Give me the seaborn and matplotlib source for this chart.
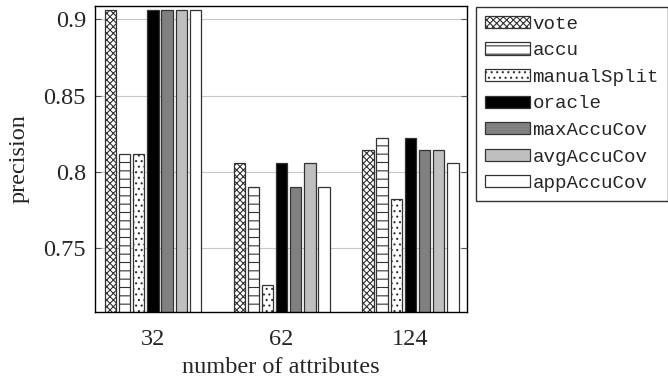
import matplotlib
matplotlib.use("Agg")
import matplotlib.pyplot as plt
import matplotlib.patches as mpatches
import pandas as pd
import seaborn as sb

# data
attributes = ["32", "62", "124"]
methods = ["vote", "accu", "manualSplit", "oracle", "maxAccuCov", "avgAccuCov", "appAccuCov"]
vote = [0.906, 0.806, 0.814]
accu = [0.812, 0.790, 0.822]
manual_split = [0.812, 0.726, 0.782]
oracle = [0.906, 0.806, 0.822]
max_accu_cov = [0.906, 0.790, 0.814]
avg_accu_cov = [0.906, 0.806, 0.814]
app_accu_cov = [0.906, 0.790, 0.806]

face_colors = ["white", "white", "white", "black", "#808080", "#bfbfbf", "white"]
hatches = ["xxxxx", "--", "...", "", "", "", ""]

series = [vote, accu, manual_split, oracle, max_accu_cov, avg_accu_cov, app_accu_cov]
rows = []
for name, vals in zip(methods, series):
    for a, v in zip(attributes, vals):
        rows.append({"attributes": a, "method": name, "precision": v})
df = pd.DataFrame(rows)

sb.set_style("white")
plt.rcParams["font.family"] = ["Liberation Serif"]
plt.rcParams["hatch.linewidth"] = 0.8
plt.rcParams["hatch.color"] = "black"

fig = plt.figure(figsize=(6.68, 3.88), dpi=100)
ax = fig.add_axes([95 / 668, 1 - 312 / 388, 372 / 668, (312 - 5.7) / 388])

sb.barplot(data=df, x="attributes", y="precision", hue="method", order=attributes,
           hue_order=methods, palette=face_colors, width=0.77, gap=0.2,
           edgecolor="#333333", linewidth=0.9, ax=ax, legend=False)

for container, h in zip(ax.containers, hatches):
    for bar in container:
        bar.set_hatch(h)

ax.set_ylim(0.708, 0.909)
ax.set_xlim(-0.45, 2.44)
ax.set_yticks([0.75, 0.8, 0.85, 0.9])
ax.set_yticklabels(["0.75", "0.8", "0.85", "0.9"])
ax.yaxis.grid(True, color="#c8c8c8", linewidth=0.8)
ax.set_axisbelow(True)
ax.tick_params(axis="y", direction="in", length=4, right=True, left=True,
               labelsize=17.5, color="#555555", pad=6.5)
ax.tick_params(axis="x", length=0, labelsize=17.5, pad=12)
for s in ax.spines.values():
    s.set_color("black")
    s.set_linewidth(1)
ax.set_xlabel("number of attributes", fontsize=17.5, labelpad=5)
ax.set_ylabel("precision", fontsize=17.5, labelpad=10)

handles = [mpatches.Patch(facecolor=c, edgecolor="#333333", hatch=h, linewidth=0.9)
           for c, h in zip(face_colors, hatches)]
leg = fig.legend(handles, methods, loc="upper left",
                 bbox_to_anchor=(476 / 668, 1 - 7 / 388), borderaxespad=0,
                 frameon=True, fancybox=False, edgecolor="black",
                 prop={"family": "Liberation Mono", "size": 13.8},
                 handlelength=2.35, handleheight=0.6, labelspacing=0.5,
                 handletextpad=0.15, borderpad=0.45)
leg.get_frame().set_linewidth(1)

fig.savefig("out.png", dpi=100)
